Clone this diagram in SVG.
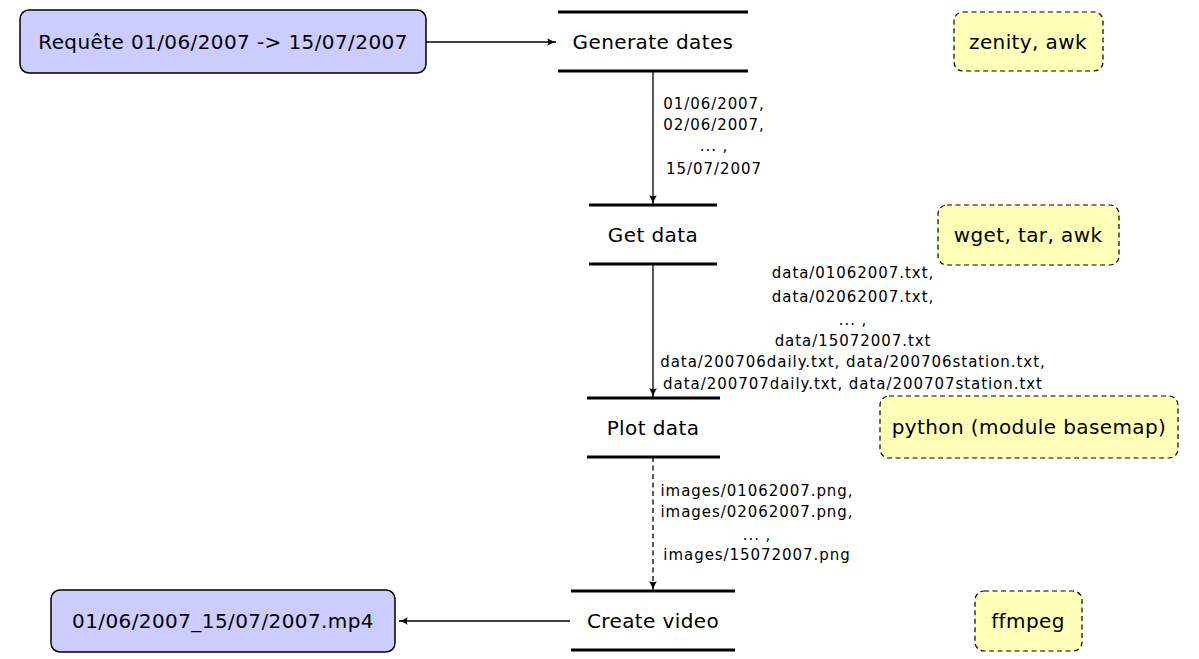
<svg xmlns="http://www.w3.org/2000/svg" width="1199" height="659" viewBox="0 0 1199 659">
<defs>
<marker id="arr" viewBox="0 0 10 10" refX="9" refY="5" markerWidth="11" markerHeight="11" markerUnits="userSpaceOnUse" orient="auto">
<path d="M1,1.5 Q5,4 9,5 Q5,6 1,8.5 Q3,5 1,1.5 Z" fill="#000"/>
</marker>
<style>
text{font-family:"DejaVu Sans","Liberation Sans",sans-serif;fill:#000;text-anchor:middle;dominant-baseline:central}
.n{font-size:20px;letter-spacing:0.4px}
.l{font-size:15px;letter-spacing:0.95px}
.io{fill:#ccccff;stroke:#000;stroke-width:1.5}
.tool{fill:#ffffb8;stroke:#000;stroke-width:1.2;stroke-dasharray:5,3.5}
.bar{stroke:#000;stroke-width:3}
.e{stroke:#000;stroke-width:1.3;fill:none;marker-end:url(#arr)}
</style>
</defs>
<rect width="1199" height="659" fill="#fff"/>
<g id="connectors">
<line class="e" x1="426" y1="42" x2="556" y2="42"/>
<line class="e" x1="653" y1="71" x2="653" y2="204"/>
<line class="e" x1="653" y1="264" x2="653" y2="397"/>
<line class="e" x1="653" y1="457" x2="653" y2="590" stroke-dasharray="5,3.5"/>
<line class="e" x1="570" y1="621" x2="399" y2="621"/>
<g class="l">
<text x="714" y="104">01/06/2007,</text>
<text x="714" y="125">02/06/2007,</text>
<text x="714" y="146">... ,</text>
<text x="714" y="169">15/07/2007</text>
<text x="853" y="273">data/01062007.txt,</text>
<text x="853" y="297">data/02062007.txt,</text>
<text x="853" y="320">... ,</text>
<text x="853" y="341">data/15072007.txt</text>
<text x="853" y="362">data/200706daily.txt, data/200706station.txt,</text>
<text x="853" y="384">data/200707daily.txt, data/200707station.txt</text>
<text x="757" y="491">images/01062007.png,</text>
<text x="757" y="512">images/02062007.png,</text>
<text x="757" y="535">... ,</text>
<text x="757" y="555">images/15072007.png</text>
</g>
</g>
<g id="request"><rect class="io" x="20" y="10" width="406" height="63" rx="9"/><text class="n" x="223" y="42">Requête 01/06/2007 -&gt; 15/07/2007</text></g>
<g id="generate"><line class="bar" x1="558" y1="12" x2="748" y2="12"/><line class="bar" x1="558" y1="71" x2="748" y2="71"/><text class="n" x="653" y="42">Generate dates</text></g>
<g id="getdata"><line class="bar" x1="589" y1="205" x2="717" y2="205"/><line class="bar" x1="589" y1="264" x2="717" y2="264"/><text class="n" x="653" y="235">Get data</text></g>
<g id="plotdata"><line class="bar" x1="587" y1="398" x2="720" y2="398"/><line class="bar" x1="587" y1="457" x2="720" y2="457"/><text class="n" x="653" y="428">Plot data</text></g>
<g id="createvideo"><line class="bar" x1="571" y1="591" x2="735" y2="591"/><line class="bar" x1="571" y1="650" x2="735" y2="650"/><text class="n" x="653" y="621">Create video</text></g>
<g id="output"><rect class="io" x="51" y="590" width="344" height="62" rx="9"/><text class="n" x="223" y="621">01/06/2007_15/07/2007.mp4</text></g>
<g id="tool1"><rect class="tool" x="954" y="12" width="149" height="59" rx="9"/><text class="n" x="1028" y="42">zenity, awk</text></g>
<g id="tool2"><rect class="tool" x="938" y="205" width="181" height="60" rx="9"/><text class="n" x="1028" y="235">wget, tar, awk</text></g>
<g id="tool3"><rect class="tool" x="880" y="396" width="298" height="62" rx="9"/><text class="n" x="1029" y="427">python (module basemap)</text></g>
<g id="tool4"><rect class="tool" x="975" y="591" width="107" height="60" rx="9"/><text class="n" x="1028" y="621">ffmpeg</text></g>
</svg>
